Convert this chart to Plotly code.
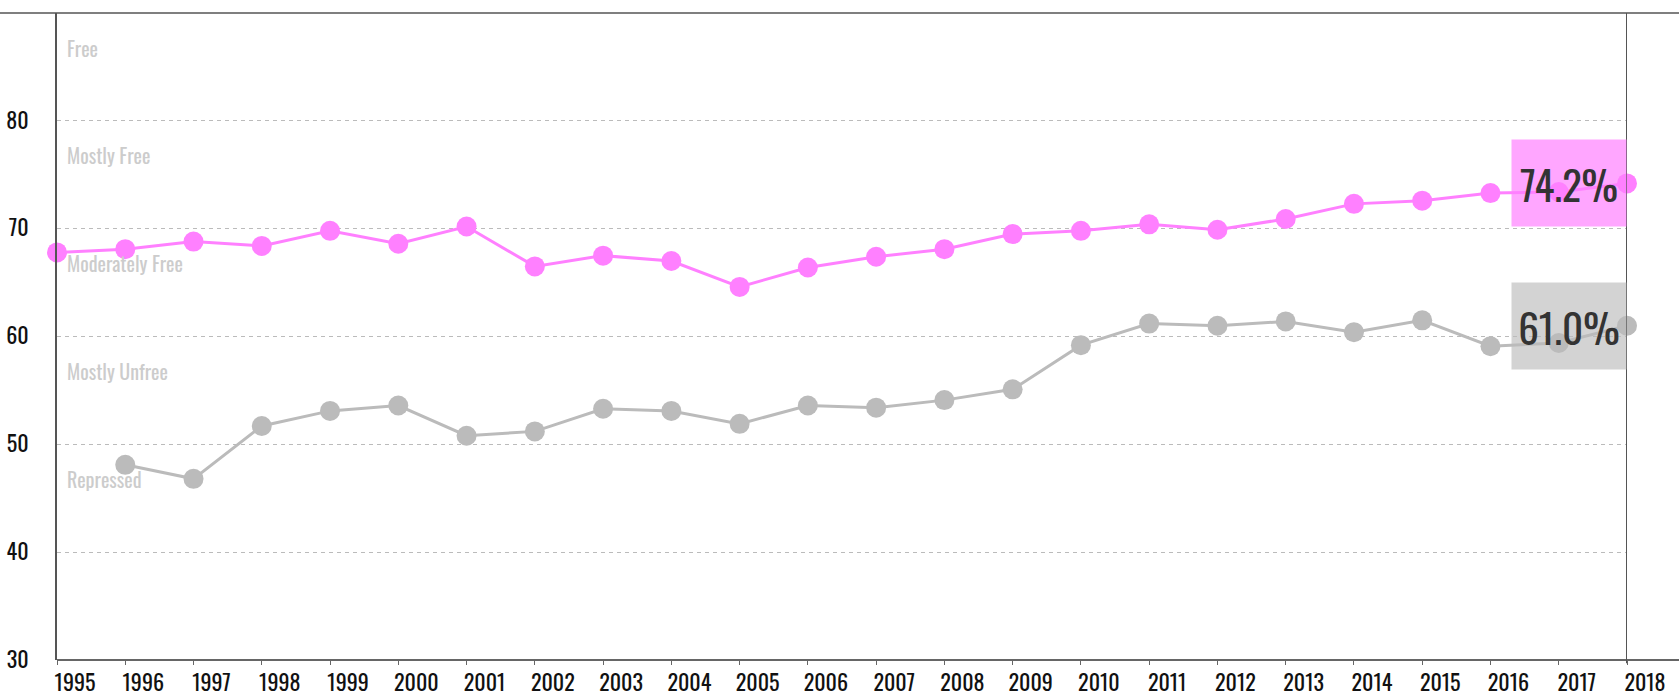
import plotly.graph_objects as go

years = list(range(1995, 2019))
free_index = [67.8, 68.1, 68.8, 68.4, 69.8, 68.6, 70.2, 66.5, 67.5, 67.0, 64.6, 66.4,
              67.4, 68.1, 69.5, 69.8, 70.4, 69.9, 70.9, 72.3, 72.6, 73.3, 73.4, 74.2]
other_index = [None, 48.1, 46.8, 51.7, 53.1, 53.6, 50.8, 51.2, 53.3, 53.1, 51.9, 53.6,
               53.4, 54.1, 55.1, 59.2, 61.2, 61.0, 61.4, 60.4, 61.5, 59.1, 59.4, 61.0]
band_labels = ["Free", "Mostly Free", "Moderately Free", "Mostly Unfree", "Repressed"]
band_tops = [90, 80, 70, 60, 50]
y_ticks = [30, 40, 50, 60, 70, 80]

FONT = "Oswald, 'Liberation Sans Narrow', 'DejaVu Sans Condensed', 'Roboto Condensed', 'Arial Narrow', sans-serif"
PINK = "#ff80ff"
GREY = "#bbbbbb"

fig = go.Figure()
fig.add_trace(go.Scatter(x=years, y=other_index, mode="lines+markers",
                         line=dict(color=GREY, width=3),
                         marker=dict(color=GREY, size=20),
                         cliponaxis=False, connectgaps=False, showlegend=False))
fig.add_trace(go.Scatter(x=years, y=free_index, mode="lines+markers",
                         line=dict(color=PINK, width=3),
                         marker=dict(color=PINK, size=20),
                         cliponaxis=False, showlegend=False))

for lab, top in zip(band_labels, band_tops):
    fig.add_annotation(x=0, xref="paper", xanchor="left", xshift=8,
                       y=top - 3.2, yref="y", yanchor="middle",
                       text=lab, showarrow=False,
                       font=dict(family=FONT, size=20, color="#cccccc"))

def last_valid(vals):
    return [v for v in vals if v is not None][-1]

for vals, bg in [(free_index, "rgba(255,128,255,0.7)"), (other_index, "rgba(187,187,187,0.65)")]:
    v = last_valid(vals)
    fig.add_annotation(x=years[-1], y=v, xref="x", yref="y", xanchor="right", yanchor="middle",
                       text=f"{v:.1f}%", showarrow=False, bgcolor=bg,
                       width=106, height=78, borderpad=4, align="center",
                       font=dict(family=FONT, size=41, color="#333333"))

PLOT_W = 1679 - 57 - 52
# top border line across the whole width
fig.add_shape(type="line", xref="paper", yref="paper", x0=-57 / PLOT_W, x1=(1679 - 57) / PLOT_W,
              y0=1, y1=1, line=dict(color="#555555", width=1.5))
# bottom axis line extended to the right edge
fig.add_shape(type="line", xref="paper", yref="paper", x0=0, x1=(1679 - 57) / PLOT_W,
              y0=0, y1=0, line=dict(color="#666666", width=2))
# vertical line at last year
fig.add_shape(type="line", xref="x", yref="paper", x0=years[-1], x1=years[-1],
              y0=-0.005, y1=1, line=dict(color="#555555", width=2))

fig.update_layout(
    width=1679, height=699, autosize=False,
    margin=dict(l=57, r=52, t=13, b=39, autoexpand=False),
    paper_bgcolor="white", plot_bgcolor="white",
    font=dict(family=FONT, color="#111111"),
    xaxis=dict(range=[1995, 2018], tickvals=years, ticktext=[str(y) for y in years],
               showgrid=False, zeroline=False, showline=False, automargin=False,
               ticks="outside", ticklen=4, tickcolor="#666666", tickwidth=1,
               ticklabelshift=18, tickfont=dict(family=FONT, size=22, color="#111111")),
    yaxis=dict(range=[30, 90], tickvals=y_ticks, showgrid=True, gridcolor="#bbbbbb",
               griddash="4px,4px", gridwidth=1, zeroline=False, automargin=False,
               showline=True, linecolor="#555555", linewidth=2,
               ticks="", ticklabelstandoff=22,
               tickfont=dict(family=FONT, size=22, color="#111111")),
)

fig.write_html("out.html", config={"displayModeBar": False},
               post_script="document.body.style.margin='0';document.body.style.overflow='hidden';")
